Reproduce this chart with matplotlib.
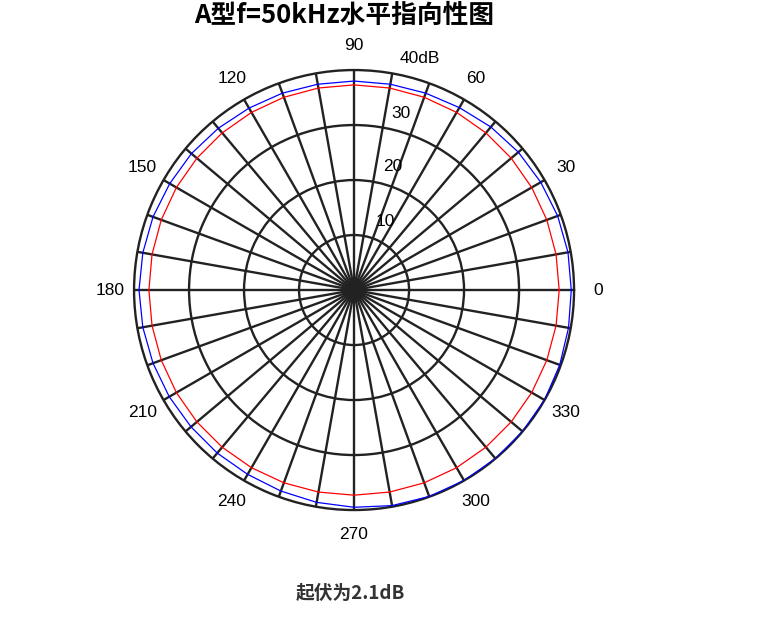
import numpy as np
import matplotlib
matplotlib.use("Agg")
import matplotlib.pyplot as plt

plt.rcParams['font.family'] = ['Liberation Sans', 'Noto Sans CJK SC', 'DejaVu Sans']

title = "A型f=50kHz水平指向性图"
note = "起伏为2.1dB"

angles_deg = list(range(0, 361, 10))
blue_db = [39.5, 39.5, 39.4, 39.2, 39.0, 38.7, 38.3, 38.1, 38.0, 38.0,
           38.0, 38.1, 38.2, 38.4, 38.6, 38.7, 38.9, 39.0, 39.1, 39.0,
           38.9, 38.8, 38.7, 38.7, 38.7, 38.9, 39.2, 39.5, 39.8, 39.95,
           40.0, 40.0, 40.0, 40.0, 39.8, 39.6, 39.5]
red_db = [37.3] * 37

theta_ticks = list(range(0, 360, 10))
theta_labels = [str(a) if a % 30 == 0 else "" for a in theta_ticks]
r_ticks = [10, 20, 30, 40]
r_labels = ["10", "20", "30", "40dB"]

fig = plt.figure(figsize=(7.66, 6.21), dpi=100)
ax = fig.add_axes([0.175, 0.1787, 0.5744, 0.7085], projection='polar')

th = np.deg2rad(angles_deg)
ax.plot(th, red_db, color='#ff0000', lw=0.9, zorder=3)
ax.plot(th, blue_db, color='#0000ff', lw=0.9, zorder=3)

ax.set_ylim(0, 40)
ax.set_thetagrids(theta_ticks, labels=theta_labels, fontsize=12.5)
ax.set_rgrids([10, 20, 30], labels=["", "", ""])
ax.grid(True, color='#222222', lw=1.7)
ax.spines['polar'].set_color('#222222')
ax.spines['polar'].set_linewidth(1.7)
ax.tick_params(axis='x', pad=7)

# radial labels
label_pos = [(65.5, 13.6), (72.4, 23.5), (75.1, 33.3), (74.1, 43.8)]
for (a, r), t in zip(label_pos, r_labels):
    ax.text(np.deg2rad(a), r, t, ha='center', va='center', fontsize=12.5,
            clip_on=False, zorder=4)

fig.text(344 / 766, 1 - 15 / 621, title, ha='center', va='center',
         fontsize=18.5, fontweight='bold',
         family=['Noto Sans CJK SC', 'DejaVu Sans'])
fig.text(350 / 766, 1 - 593 / 621, note, ha='center', va='center',
         fontsize=13.5, fontweight='bold', color='#333333',
         family=['Noto Sans CJK SC', 'DejaVu Sans'])

fig.savefig("out.png", dpi=100)
